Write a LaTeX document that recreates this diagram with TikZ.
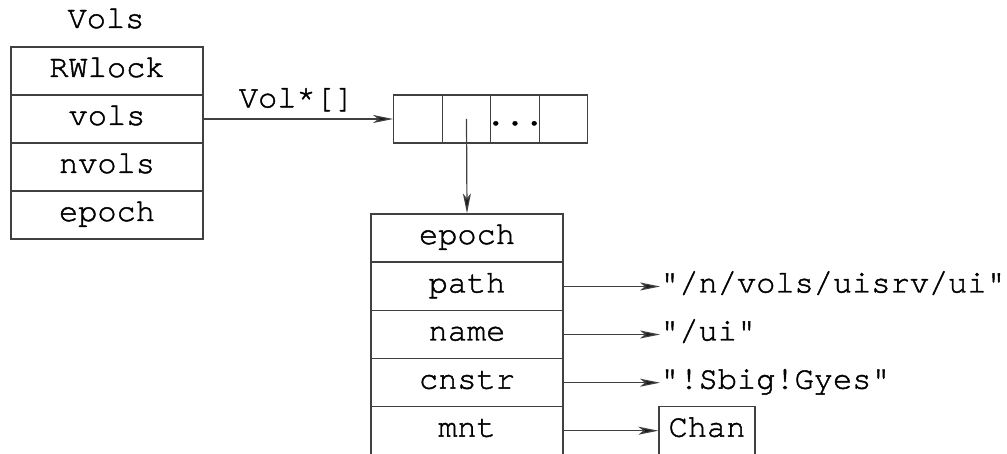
\documentclass[tikz,border=0pt]{standalone}
\usepackage{fontspec}
\setmonofont{TeX Gyre Cursor}[FakeBold=1.4]
\usetikzlibrary{arrows.meta}
\newcommand{\ttbig}{\ttfamily\fontsize{32}{38}\selectfont}
\tikzset{
  field/.style={draw=black!75, line width=1.2pt, minimum width=192pt, minimum height=48pt,
    inner sep=0pt, font=\ttbig, text height=19pt, text depth=7pt},
  cell/.style={draw=black!75, line width=1.2pt, minimum width=48.5pt, minimum height=48pt,
    inner sep=0pt, font=\ttbig, text height=19pt, text depth=7pt},
  lbl/.style={inner sep=0pt, font=\ttbig, text height=19pt, text depth=7pt},
  conn/.style={draw=black!75, line width=1.2pt,
    -{Stealth[length=20pt,width=8pt,inset=5pt,fill=black!90]}},
}
\begin{document}
\begin{tikzpicture}[x=1pt,y=-1pt]
\useasboundingbox (0,0) rectangle (1007,454);
\clip (0,0) rectangle (1007,454);
% Vols structure
\node[lbl] (volstitle) at (106,22) {Vols};
\node[field] (rw) at (107,71) {RWlock};
\node[field] (vols) at (107,119) {vols};
\node[field] (nvols) at (107,167) {nvols};
\node[field] (vepoch) at (107,215) {epoch};
% array
\node[cell] (c1) at (418,119) {};
\node[cell] (c2) at (466.5,119) {};
\node[cell] (c3) at (515,119) {\makebox[0pt]{...}};
\node[cell] (c4) at (563.5,119) {};
\draw[conn] (vols.east) -- node[lbl, above=4pt, pos=0.49] (vlab) {Vol*[]} (c1.west);
% Vol structure
\node[field] (ep) at (467,238) {epoch};
\node[field] (path) at (467,286.5) {path};
\node[field] (name) at (467,334.5) {name};
\node[field] (cnstr) at (467,382.7) {cnstr};
\node[field] (mnt) at (467,430.7) {mnt};
\draw[conn] (c2.center) -- (ep.north);
% targets
\node[lbl, anchor=west] (s1) at (660,286.5) {"/n/vols/uisrv/ui"};
\node[lbl, anchor=west] (s2) at (660,334.5) {"/ui"};
\node[lbl, anchor=west] (s3) at (660,382.7) {"!Sbig!Gyes"};
\node[cell, minimum width=96pt] (chan) at (707,430.7) {Chan};
\draw[conn] (path.east) -- (path.east -| s1.west);
\draw[conn] (name.east) -- (name.east -| s2.west);
\draw[conn] (cnstr.east) -- (cnstr.east -| s3.west);
\draw[conn] (mnt.east) -- (chan.west);
\end{tikzpicture}
\end{document}
